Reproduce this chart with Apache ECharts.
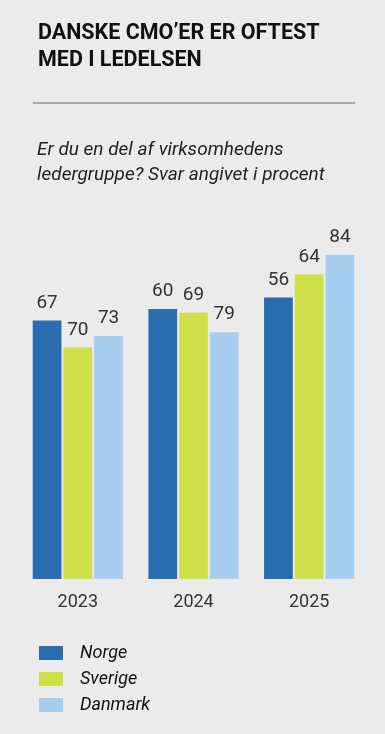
<!DOCTYPE html>
<html>
<head>
<meta charset="utf-8">
<script src="https://cdn.jsdelivr.net/npm/echarts@6/dist/echarts.min.js"></script>
<style>
html,body{margin:0;padding:0;background:#ebebeb;}
#chart{width:385px;height:734px;}
</style>
</head>
<body>
<div id="chart"></div>
<script>
// Categories
const years = ['2023', '2024', '2025'];
const seriesNames = ['Norge', 'Sverige', 'Danmark'];
// Bar heights as drawn in the picture
const norgeBars = [67, 70, 73];
const sverigeBars = [60, 69, 79];
const danmarkBars = [63, 64, 84];
// Value labels printed above the bars
const norgeLabels = [67, 60, 56];
const sverigeLabels = [70, 69, 64];
const danmarkLabels = [73, 79, 84];

const colors = ['#2a6cb0', '#cde04a', '#a8cdee'];
const FONT = 'Roboto';

const chart = echarts.init(document.getElementById('chart'), null, {renderer: 'canvas'});

function mk(name, bars, labels, color) {
  return {
    name: name,
    type: 'bar',
    data: bars,
    barGap: '7%',
    barCategoryGap: '22%',
    itemStyle: {color: color},
    label: {
      show: true,
      position: 'top',
      distance: 8,
      color: '#333',
      fontFamily: FONT,
      fontSize: 19,
      formatter: p => String(labels[p.dataIndex])
    }
  };
}

chart.setOption({
  backgroundColor: '#ebebeb',
  animation: false,
  title: [
    {
      text: 'DANSKE CMO\u2019ER ER OFTEST\nMED I LEDELSEN',
      left: 33, top: 15,
      textStyle: {fontFamily: FONT, fontWeight: 'bold', fontSize: 21.5, lineHeight: 27, color: '#111'}
    },
    {
      text: 'Er du en del af virksomhedens\nledergruppe? Svar angivet i procent',
      left: 32, top: 133,
      textStyle: {fontFamily: FONT, fontStyle: 'italic', fontWeight: 'normal', fontSize: 19, lineHeight: 25, color: '#222'}
    }
  ],
  graphic: [
    {type: 'line', shape: {x1: 33, y1: 103, x2: 355, y2: 103}, style: {stroke: '#666', lineWidth: 1}}
  ],
  legend: {
    orient: 'vertical',
    left: 34, top: 639,
    itemWidth: 24, itemHeight: 14, itemGap: 8,
    icon: 'rect',
    data: seriesNames,
    textStyle: {fontFamily: FONT, fontStyle: 'italic', fontSize: 18, color: '#111', padding: [0, 0, 0, 12]}
  },
  grid: {left: 20, right: 18, top: 193.3, bottom: 155, containLabel: false},
  xAxis: {
    type: 'category',
    data: years,
    axisLine: {show: false},
    axisTick: {show: false},
    axisLabel: {fontFamily: FONT, fontSize: 18, color: '#333', margin: 14}
  },
  yAxis: {
    type: 'value', min: 0, max: 100,
    show: false,
    splitLine: {show: false}
  },
  series: [
    mk(seriesNames[0], norgeBars, norgeLabels, colors[0]),
    mk(seriesNames[1], sverigeBars, sverigeLabels, colors[1]),
    mk(seriesNames[2], danmarkBars, danmarkLabels, colors[2])
  ]
});
</script>
</body>
</html>
